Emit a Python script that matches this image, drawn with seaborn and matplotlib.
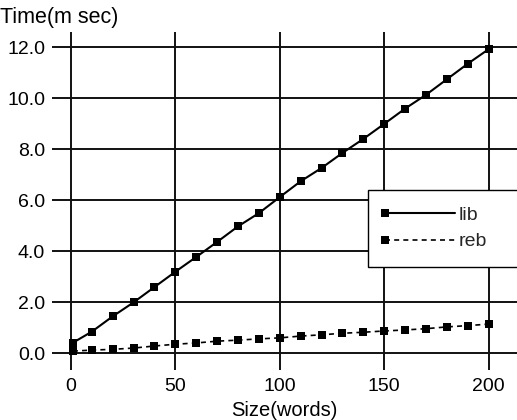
import matplotlib
matplotlib.use("Agg")
import matplotlib.pyplot as plt
from matplotlib.legend_handler import HandlerLine2D
import seaborn as sns
import pandas as pd

# data
size_words = [1, 10, 20, 30, 40, 50, 60, 70, 80, 90, 100,
              110, 120, 130, 140, 150, 160, 170, 180, 190, 200]
lib_time = [0.42, 0.85, 1.45, 2.0, 2.6, 3.2, 3.78, 4.37, 4.98, 5.5, 6.13,
            6.75, 7.27, 7.86, 8.41, 9.0, 9.6, 10.14, 10.75, 11.36, 11.93]
reb_time = [0.09, 0.13, 0.16, 0.21, 0.29, 0.36, 0.41, 0.48, 0.52, 0.57, 0.61,
            0.68, 0.73, 0.79, 0.83, 0.88, 0.92, 0.97, 1.04, 1.09, 1.15]
x_ticks = [0, 50, 100, 150, 200]
y_ticks = [0.0, 2.0, 4.0, 6.0, 8.0, 10.0, 12.0]

df = pd.DataFrame({"size": size_words, "lib": lib_time, "reb": reb_time})

sns.set_theme(style="white")
plt.rcParams["font.family"] = ["Liberation Sans", "DejaVu Sans"]


# legend: marker only at the left end of the line
class StartMarker(HandlerLine2D):
    def create_artists(self, *args, **kwargs):
        artists = super().create_artists(*args, **kwargs)
        for a in artists:
            a.set_markevery([0])
        return artists


fig = plt.figure(figsize=(5.17, 4.2), dpi=100)
ax = fig.add_axes([52 / 517, 50 / 420, 465 / 517, 338 / 420])

sns.lineplot(data=df, x="size", y="lib", ax=ax, color="black", lw=1.5,
             marker="s", markersize=5.2, markeredgewidth=0, label="lib")
sns.lineplot(data=df, x="size", y="reb", ax=ax, color="black", lw=1.2,
             marker="s", markersize=5.2, markeredgewidth=0, label="reb",
             dashes=False)
ax.lines[1].set_dashes([3, 2.5])

ax.set_xlim(-9, 213.5)
ax.set_ylim(-0.65, 12.6)
ax.set_xticks(x_ticks)
ax.set_yticks(y_ticks)
ax.set_yticklabels([f"{v:.1f}" for v in y_ticks])
ax.grid(True, color="#111111", lw=1.4)
ax.set_axisbelow(True)
for s in ax.spines.values():
    s.set_visible(False)
ax.tick_params(axis="both", length=0, labelsize=14, colors="black")
ax.tick_params(axis="x", pad=6)
ax.tick_params(axis="y", pad=5)

ax.set_xlabel("Size(words)", fontsize=14.5, color="black", labelpad=4)
ax.set_ylabel("Time(m sec)", fontsize=15.5, color="black", rotation=0,
              ha="left", va="bottom")
ax.yaxis.set_label_coords(-0.112, 1.012)

handles, labels = ax.get_legend_handles_labels()
leg = ax.legend(handles, labels, loc="upper left",
                bbox_to_anchor=(0.68, 0.32, 0.36, 0.213), mode="expand",
                handler_map={h: StartMarker() for h in handles},
                handlelength=3.6, handletextpad=0.2, borderaxespad=0,
                fontsize=14, frameon=True, fancybox=False, framealpha=1,
                labelspacing=0.45, borderpad=0.85)
leg.get_frame().set_edgecolor("black")
leg.get_frame().set_linewidth(1.0)

fig.savefig("out.png", dpi=100)
